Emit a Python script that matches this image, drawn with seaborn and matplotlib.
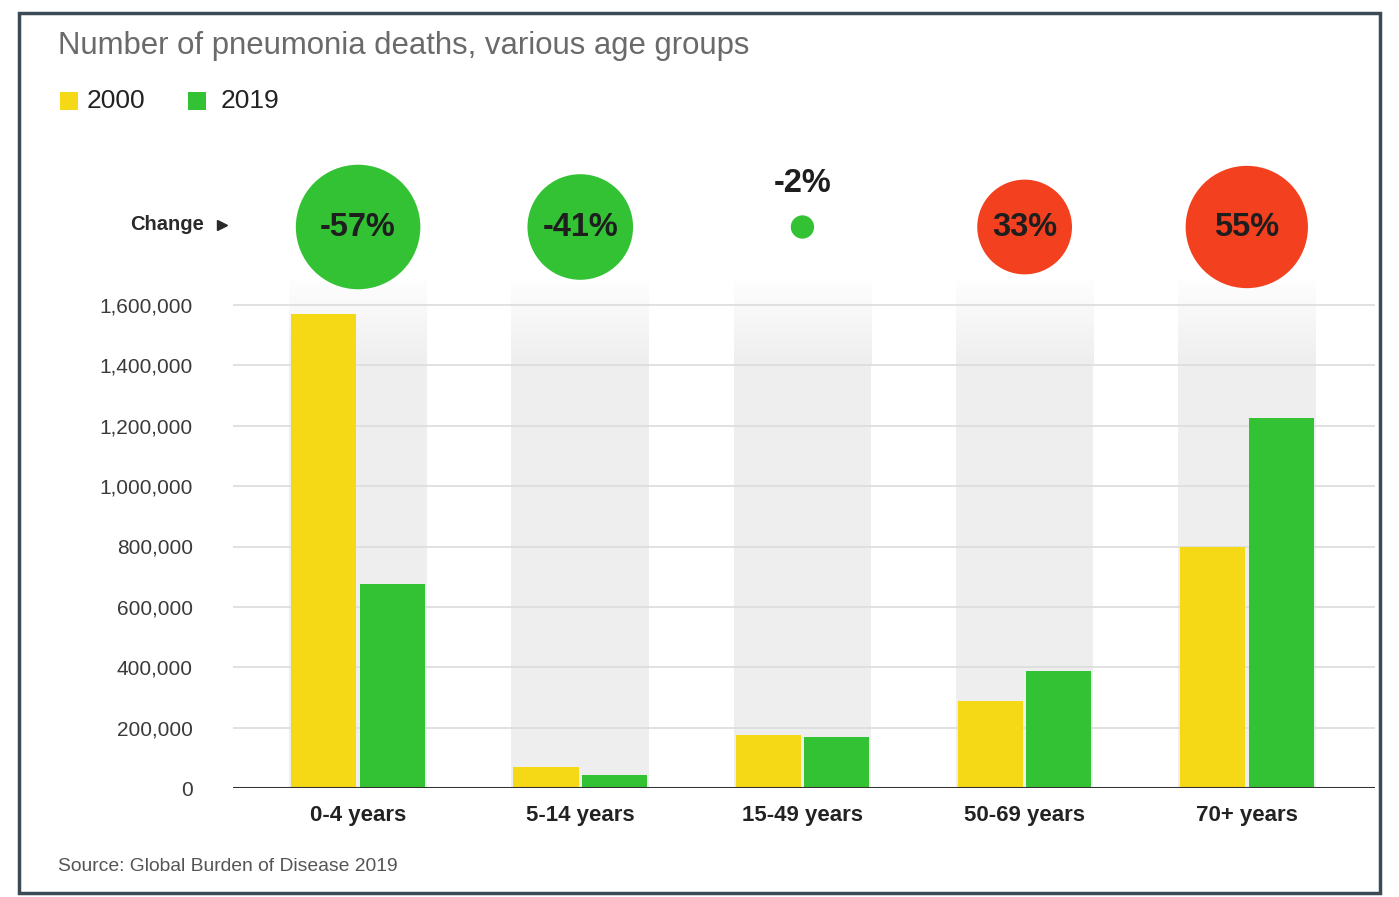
import matplotlib
matplotlib.use("Agg")
import matplotlib.pyplot as plt
import seaborn as sns
import pandas as pd
import numpy as np
from matplotlib.patches import Rectangle
from matplotlib.ticker import FuncFormatter
from matplotlib.colors import LinearSegmentedColormap

# ---- data ----
age_groups = ["0-4 years", "5-14 years", "15-49 years", "50-69 years", "70+ years"]
deaths_2000 = [1570000, 70000, 176000, 288000, 798000]
deaths_2019 = [676000, 43000, 169000, 388000, 1226000]
change_pct = [-57, -41, -2, 33, 55]
years = ["2000", "2019"]
y_ticks = [0, 200000, 400000, 600000, 800000, 1000000, 1200000, 1400000, 1600000]

title = "Number of pneumonia deaths, various age groups"
source = "Source: Global Burden of Disease 2019"

YELLOW = "#f5d816"
GREEN = "#33c233"
RED = "#f3401f"
BAND = "#eeeeef"

sns.set_theme(style="white")
plt.rcParams['font.family'] = ['Liberation Sans', 'DejaVu Sans']

df = pd.DataFrame({
    "age": age_groups * 2,
    "deaths": deaths_2000 + deaths_2019,
    "year": [years[0]] * len(age_groups) + [years[1]] * len(age_groups),
})

W, H = 1399, 897
fig = plt.figure(figsize=(W / 100, H / 100), dpi=100)
fig.patch.set_facecolor("white")

def fx(px):
    return px / W

def fy(py):
    return 1 - py / H

ax_left, ax_right, ax_bottom, ax_top = 233, 1375, 788, 280
ax = fig.add_axes([fx(ax_left), fy(ax_bottom), (ax_right - ax_left) / W, (ax_bottom - ax_top) / H])
ax.set_facecolor("none")

ymax = 1600000 * (788 - 280) / (788 - 305)
fade_start = 1400000

# background bands (solid below, fading toward the top)
band_cmap = LinearSegmentedColormap.from_list("band", ["#fefefe", BAND])
grad = np.linspace(0, 1, 64).reshape(-1, 1)  # row 0 drawn at top (white)
for i in range(len(age_groups)):
    ax.axvspan(i - 0.31, i + 0.31, ymin=0, ymax=fade_start / ymax, color=BAND, lw=0, zorder=0)
    ax.imshow(grad, extent=(i - 0.31, i + 0.31, fade_start, ymax), aspect="auto",
              cmap=band_cmap, origin="upper", zorder=0, interpolation="bilinear")

sns.barplot(data=df, x="age", y="deaths", hue="year", palette=[YELLOW, GREEN],
            width=0.617, gap=0.05, saturation=1, errorbar=None, legend=False,
            ax=ax, zorder=2, linewidth=0)

ax.set_ylim(0, ymax)
ax.set_xlim(-0.563, 4.577)

for t in y_ticks[1:]:
    ax.axhline(t, color="#dcdcdc", lw=1.2, zorder=1)
ax.axhline(0, color="#333333", lw=2.2, zorder=3)

for s in ax.spines.values():
    s.set_visible(False)

ax.set_yticks(y_ticks)
ax.yaxis.set_major_formatter(FuncFormatter(lambda v, p: f"{v:,.0f}"))
ax.tick_params(axis="y", length=0, pad=29, labelsize=15, labelcolor="#3a3a3a")
ax.tick_params(axis="x", length=0, pad=12, labelsize=16, labelcolor="#222222")
for lab in ax.get_xticklabels():
    lab.set_fontweight("bold")
ax.set_xlabel("")
ax.set_ylabel("")

# change circles
px_per_unit = (ax_right - ax_left) / (4.577 + 0.563)
def dx(px):
    return -0.563 + (px - ax_left) / px_per_unit

def dy(py):
    return (788 - py) * 1600000 / (788 - 305)

y_circ = dy(227)
sizes = [141 * abs(p) for p in change_pct]
cols = [GREEN if p < 0 else RED for p in change_pct]
ax.scatter(range(len(change_pct)), [y_circ] * len(change_pct), s=sizes, c=cols,
           edgecolors="none", clip_on=False, zorder=5)
for i, p in enumerate(change_pct):
    lab = f"{p}%"
    ypos = dy(184) if abs(p) < 10 else y_circ
    ax.text(i, ypos, lab, ha="center", va="center", fontsize=23.5,
            fontweight="bold", color="#1e1e1e", zorder=6, clip_on=False)

ax.text(dx(204), dy(224), "Change", ha="right", va="center", fontsize=14.5,
        fontweight="bold", color="#2a2a2a", clip_on=False)
ax.plot([dx(222)], [dy(225)], marker=">", markersize=7, color="#2a2a2a",
        clip_on=False, zorder=6)

# title, legend, source
fig.text(fx(58), fy(46), title, ha="left", va="center", fontsize=22.4, color="#6a6a6a")

fig.add_artist(Rectangle((fx(60), fy(110)), 18 / W, 18 / H, transform=fig.transFigure,
                         facecolor=YELLOW, edgecolor="none"))
fig.text(fx(87), fy(101), years[0], ha="left", va="center", fontsize=19, color="#222222")
fig.add_artist(Rectangle((fx(188), fy(110)), 18 / W, 18 / H, transform=fig.transFigure,
                         facecolor=GREEN, edgecolor="none"))
fig.text(fx(221), fy(101), years[1], ha="left", va="center", fontsize=19, color="#222222")

fig.text(fx(58), fy(866), source, ha="left", va="center", fontsize=13.9, color="#555555")

# frame
fig.add_artist(Rectangle((fx(19), fy(893)), (1380 - 19) / W, (893 - 13) / H,
                         transform=fig.transFigure, fill=False, edgecolor="#3b4a55", lw=2.5))

fig.savefig("out.png", dpi=100)
